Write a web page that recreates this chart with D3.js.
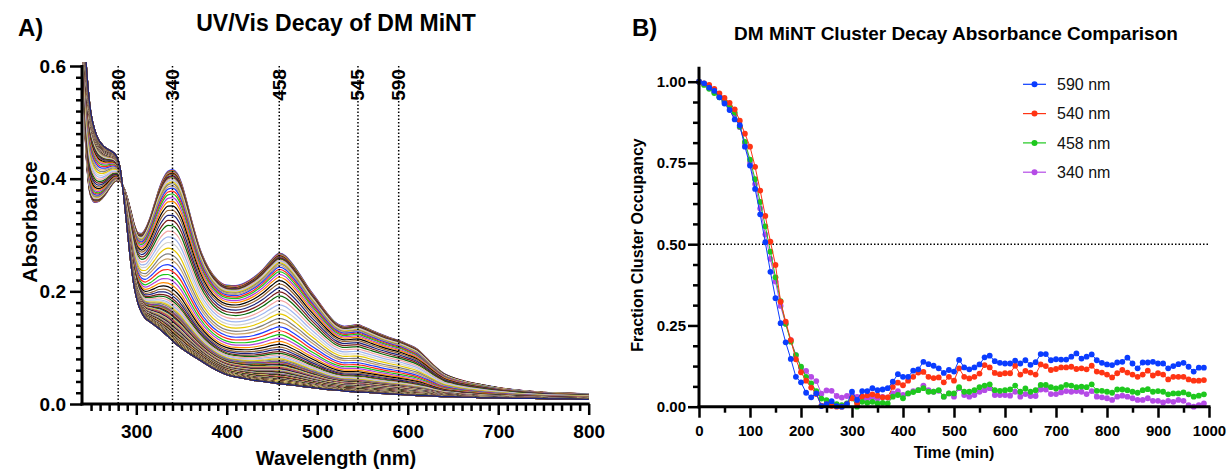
<!DOCTYPE html>
<html>
<head>
<meta charset="utf-8">
<script src="https://cdn.jsdelivr.net/npm/d3@7"></script>
<style>
  body { margin: 0; background: #fff; }
  svg { display: block; font-family: "Liberation Sans", Arial, Helvetica, sans-serif; }
</style>
</head>
<body>
<svg id="chart" width="1227" height="471"></svg>
<script>
// ---------- Panel A: UV/Vis spectra ----------
const wavelengths = [240, 242, 244, 246, 248, 250, 254, 258, 262, 266, 270, 274, 278, 282, 286, 290, 294, 298,
  302, 306, 310, 315, 320, 325, 330, 335, 340, 345, 350, 355, 360, 370, 380, 390, 400, 410, 420, 430, 440, 450,
  458, 465, 470, 480, 490, 500, 510, 520, 530, 540, 545, 550, 560, 570, 580, 590, 600, 610, 620, 630, 640, 650,
  660, 670, 680, 700, 720, 740, 760, 780, 800];

// spectrum at t = 0 (intact cluster)
const initialSpectrum = [0.72, 0.56, 0.46, 0.41, 0.38, 0.367, 0.358, 0.359, 0.364, 0.372, 0.382, 0.391, 0.396, 0.395,
  0.385, 0.367, 0.343, 0.318, 0.304, 0.303, 0.311, 0.33, 0.355, 0.381, 0.401, 0.413, 0.416, 0.41, 0.392, 0.364,
  0.333, 0.277, 0.241, 0.22, 0.211, 0.21, 0.215, 0.225, 0.239, 0.257, 0.268, 0.263, 0.254, 0.232, 0.207, 0.185,
  0.163, 0.145, 0.138, 0.14, 0.141, 0.138, 0.131, 0.124, 0.118, 0.113, 0.106, 0.098, 0.083, 0.067, 0.054, 0.047,
  0.042, 0.038, 0.035, 0.029, 0.025, 0.022, 0.020, 0.019, 0.018];

// spectrum at the end of the run (decayed)
const finalSpectrum = [0.75, 0.68, 0.62, 0.575, 0.54, 0.515, 0.487, 0.47, 0.461, 0.455, 0.451, 0.447, 0.44, 0.42,
  0.37, 0.31, 0.25, 0.205, 0.178, 0.162, 0.152, 0.146, 0.14, 0.134, 0.127, 0.12, 0.112, 0.105, 0.099, 0.093,
  0.088, 0.078, 0.068, 0.059, 0.052, 0.048, 0.045, 0.042, 0.04, 0.038, 0.036, 0.035, 0.034, 0.032, 0.03, 0.028,
  0.026, 0.025, 0.023, 0.022, 0.021, 0.021, 0.02, 0.019, 0.018, 0.017, 0.016, 0.015, 0.015, 0.014, 0.013, 0.013,
  0.012, 0.012, 0.011, 0.011, 0.01, 0.01, 0.009, 0.009, 0.008];

// absorbance at 458 nm of every recorded trace (one every 5 min)
const peak458 = [
  0.268, 0.267, 0.266, 0.265, 0.264, 0.263, 0.262, 0.260, 0.259, 0.257,
  0.256, 0.254, 0.253, 0.251, 0.249, 0.246, 0.243, 0.239, 0.235, 0.230,
  0.225, 0.219, 0.213, 0.206, 0.199, 0.192, 0.184, 0.176, 0.168, 0.160,
  0.152, 0.145, 0.137, 0.130, 0.123, 0.117, 0.111, 0.106, 0.101, 0.097,
  0.093, 0.090, 0.087, 0.084, 0.082, 0.080, 0.078, 0.076, 0.075, 0.074,
  0.073, 0.072, 0.071, 0.070, 0.069, 0.069, 0.068, 0.068, 0.067, 0.067,
  0.066, 0.066, 0.065, 0.065, 0.064, 0.064, 0.063, 0.063, 0.062, 0.062,
  0.061, 0.061, 0.060, 0.060, 0.060, 0.060, 0.059, 0.059, 0.058, 0.058,
  0.057, 0.057, 0.057, 0.057, 0.056, 0.056, 0.055, 0.055, 0.055, 0.055,
  0.054, 0.054, 0.053, 0.053, 0.053, 0.053, 0.052, 0.052, 0.052, 0.052,
  0.051, 0.051, 0.050, 0.050, 0.050, 0.050, 0.049, 0.049, 0.049, 0.049,
  0.048, 0.048, 0.048, 0.048, 0.047, 0.047, 0.047, 0.047, 0.046, 0.046,
  0.046, 0.046, 0.045, 0.045, 0.045, 0.045, 0.045, 0.045, 0.044, 0.044,
  0.044, 0.044, 0.043, 0.043, 0.043, 0.043, 0.043, 0.043, 0.042, 0.042,
  0.042, 0.042, 0.042, 0.042, 0.041, 0.041, 0.041, 0.041, 0.041, 0.041,
  0.040, 0.040, 0.040, 0.040, 0.040, 0.040, 0.040, 0.040, 0.039, 0.039,
  0.039, 0.039, 0.039, 0.039, 0.039, 0.039, 0.038, 0.038, 0.038, 0.038,
  0.038, 0.038, 0.038, 0.038, 0.038, 0.038, 0.037, 0.037, 0.037, 0.037,
  0.037, 0.037, 0.037, 0.037, 0.037, 0.037, 0.036, 0.036, 0.036, 0.036,
  0.036, 0.036, 0.036, 0.036, 0.036, 0.036, 0.036, 0.036, 0.036, 0.036];

const markerWavelengths = [280, 340, 458, 545, 590];
const traceColors = ["#1f3cff", "#ff2a1a", "#19c719", "#b040e0", "#ff8c00", "#000000", "#996633", "#1a237e",
  "#7b1c1c", "#0b6b0b", "#f4a6a6", "#9fb6f0", "#d0d0d0", "#e6c800", "#808080", "#c8a26a"];
const xTicksA = [300, 400, 500, 600, 700, 800];
const yTicksA = [0.0, 0.2, 0.4, 0.6];

// ---------- Panel B: fraction cluster occupancy ----------
const times = d3.range(0, 1000, 10);
const occ590 = [
  1.0, 0.995, 0.982, 0.972, 0.952, 0.933, 0.913, 0.884, 0.866, 0.80,
  0.742, 0.67, 0.592, 0.506, 0.415, 0.334, 0.257, 0.198, 0.147, 0.092,
  0.075, 0.043, 0.029, 0.041, 0.002, 0.008, 0.017, 0.002, 0.0, 0.008,
  0.046, 0.021, 0.048, 0.048, 0.057, 0.051, 0.053, 0.057, 0.077, 0.10,
  0.092, 0.092, 0.111, 0.115, 0.138, 0.131, 0.126, 0.118, 0.104, 0.113,
  0.108, 0.144, 0.121, 0.115, 0.121, 0.13, 0.152, 0.157, 0.14, 0.135,
  0.133, 0.133, 0.142, 0.133, 0.143, 0.129, 0.137, 0.162, 0.162, 0.143,
  0.146, 0.145, 0.145, 0.154, 0.164, 0.148, 0.154, 0.161, 0.143, 0.135,
  0.13, 0.128, 0.136, 0.138, 0.151, 0.133, 0.118, 0.136, 0.136, 0.138,
  0.133, 0.133, 0.118, 0.125, 0.131, 0.135, 0.123, 0.108, 0.12, 0.12];
const occ540 = [
  1.0, 0.995, 0.99, 0.978, 0.964, 0.95, 0.935, 0.915, 0.88, 0.84,
  0.80, 0.738, 0.665, 0.587, 0.508, 0.436, 0.323, 0.262, 0.205, 0.146,
  0.106, 0.08, 0.059, 0.039, 0.003, 0.008, 0.003, 0.0, 0.0, 0.008,
  0.026, 0.01, 0.032, 0.035, 0.038, 0.034, 0.029, 0.029, 0.061, 0.074,
  0.066, 0.08, 0.092, 0.105, 0.107, 0.092, 0.088, 0.09, 0.075, 0.092,
  0.08, 0.118, 0.092, 0.087, 0.092, 0.102, 0.128, 0.121, 0.104, 0.10,
  0.103, 0.103, 0.126, 0.099, 0.11, 0.105, 0.099, 0.13, 0.125, 0.113,
  0.116, 0.121, 0.121, 0.123, 0.116, 0.118, 0.115, 0.126, 0.108, 0.105,
  0.099, 0.09, 0.103, 0.113, 0.105, 0.099, 0.092, 0.099, 0.111, 0.096,
  0.103, 0.099, 0.084, 0.092, 0.092, 0.092, 0.084, 0.08, 0.08, 0.082];
const occ458 = [
  1.0, 0.99, 0.978, 0.965, 0.952, 0.94, 0.925, 0.905, 0.862, 0.815,
  0.76, 0.70, 0.63, 0.555, 0.477, 0.398, 0.325, 0.255, 0.20, 0.159,
  0.123, 0.092, 0.072, 0.048, 0.025, 0.02, 0.012, 0.008, 0.005, 0.01,
  0.026, 0.0, 0.015, 0.012, 0.015, 0.01, 0.012, 0.01, 0.031, 0.036,
  0.026, 0.041, 0.045, 0.051, 0.057, 0.046, 0.046, 0.051, 0.031, 0.041,
  0.041, 0.06, 0.046, 0.046, 0.051, 0.06, 0.065, 0.069, 0.051, 0.049,
  0.051, 0.053, 0.065, 0.046, 0.056, 0.046, 0.051, 0.067, 0.067, 0.06,
  0.056, 0.06, 0.067, 0.065, 0.06, 0.062, 0.06, 0.069, 0.049, 0.049,
  0.046, 0.043, 0.053, 0.053, 0.051, 0.046, 0.043, 0.051, 0.054, 0.046,
  0.048, 0.046, 0.038, 0.041, 0.041, 0.044, 0.038, 0.031, 0.034, 0.038];
const occ340 = [
  1.0, 0.993, 0.98, 0.968, 0.955, 0.94, 0.922, 0.90, 0.86, 0.81,
  0.75, 0.685, 0.61, 0.53, 0.455, 0.385, 0.31, 0.255, 0.205, 0.159,
  0.12, 0.11, 0.092, 0.079, 0.04, 0.05, 0.049, 0.033, 0.028, 0.033,
  0.036, 0.03, 0.025, 0.025, 0.028, 0.025, 0.03, 0.028, 0.041, 0.048,
  0.036, 0.041, 0.048, 0.051, 0.065, 0.051, 0.046, 0.049, 0.031, 0.041,
  0.031, 0.057, 0.036, 0.031, 0.036, 0.046, 0.051, 0.057, 0.036, 0.036,
  0.036, 0.034, 0.046, 0.031, 0.039, 0.033, 0.033, 0.053, 0.053, 0.039,
  0.039, 0.044, 0.048, 0.046, 0.048, 0.046, 0.039, 0.048, 0.031, 0.029,
  0.026, 0.021, 0.031, 0.034, 0.031, 0.026, 0.021, 0.021, 0.026, 0.018,
  0.018, 0.013, 0.018, 0.015, 0.021, 0.018, 0.005, 0.0, 0.005, 0.01];
const seriesNames = ["590 nm", "540 nm", "458 nm", "340 nm"];
const seriesColors = ["#0a3cff", "#ff3414", "#1ec81e", "#b54be6"];
const xTicksB = [0, 100, 200, 300, 400, 500, 600, 700, 800, 900, 1000];
const yTicksB = [0.0, 0.25, 0.5, 0.75, 1.0];

// ---------- drawing ----------
const svg = d3.select("#chart");
const BOLD = 700;

function styleAxis(g, width) {
  g.select(".domain").remove();
  g.selectAll(".tick line").attr("stroke", "#000").attr("stroke-width", width);
}

// ===== Panel A =====
const xA = d3.scaleLinear().domain([240, 800]).range([82, 588.7]);
const yA = d3.scaleLinear().domain([0, 0.6]).range([404, 66]);

svg.append("text").attr("x", 18).attr("y", 36).attr("font-size", 24).attr("font-weight", BOLD).text("A)");
svg.append("text").attr("x", 336).attr("y", 31).attr("text-anchor", "middle")
  .attr("font-size", 23).attr("font-weight", BOLD).text("UV/Vis Decay of DM MiNT");

svg.append("clipPath").attr("id", "clipA").append("rect")
  .attr("x", 82).attr("y", 62).attr("width", 520).attr("height", 345);

// each trace mixes the starting and decayed spectra by its 458 nm absorbance
const i458 = wavelengths.indexOf(458);
const span458 = initialSpectrum[i458] - finalSpectrum[i458];
const traces = peak458.map(a => {
  const w = (a - finalSpectrum[i458]) / span458;
  return wavelengths.map((wl, j) => [wl, finalSpectrum[j] + w * (initialSpectrum[j] - finalSpectrum[j])]);
});
const lineA = d3.line().x(d => xA(d[0])).y(d => yA(d[1])).curve(d3.curveMonotoneX);
svg.append("g").attr("clip-path", "url(#clipA)")
  .selectAll("path").data(traces).join("path")
  .attr("d", lineA).attr("fill", "none")
  .attr("stroke", (d, k) => traceColors[k % traceColors.length])
  .attr("stroke-width", 1.2);

// reference wavelengths
const refs = svg.append("g");
markerWavelengths.forEach(wl => {
  refs.append("line").attr("x1", xA(wl)).attr("x2", xA(wl)).attr("y1", yA(0.6)).attr("y2", yA(0))
    .attr("stroke", "#000").attr("stroke-width", 1.5).attr("stroke-dasharray", "1.5,2");
  refs.append("text").attr("transform", `translate(${xA(wl) + 6.5},85) rotate(-90)`)
    .attr("text-anchor", "middle").attr("font-size", 19).attr("font-weight", BOLD).text(wl);
});

// axes A
const gxAminor = svg.append("g").attr("transform", "translate(0,404)")
  .call(d3.axisBottom(xA).tickValues(d3.range(250, 800, 10).filter(v => v % 100 !== 0)).tickSize(7).tickFormat(""));
styleAxis(gxAminor, 2.5);
const gxA = svg.append("g").attr("transform", "translate(0,404)")
  .call(d3.axisBottom(xA).tickValues(xTicksA).tickSize(11).tickPadding(10));
styleAxis(gxA, 2.5);
gxA.selectAll("text").attr("font-size", 19).attr("font-weight", BOLD).attr("fill", "#000").attr("font-family", null);

const gyAminor = svg.append("g").attr("transform", "translate(82,0)")
  .call(d3.axisLeft(yA).tickValues(d3.range(1, 30).filter(v => v % 10 !== 0).map(v => v * 0.02)).tickSize(6).tickFormat(""));
styleAxis(gyAminor, 2.5);
const gyA = svg.append("g").attr("transform", "translate(82,0)")
  .call(d3.axisLeft(yA).tickValues(yTicksA).tickSize(12).tickPadding(4).tickFormat(d3.format(".1f")));
styleAxis(gyA, 2.5);
gyA.selectAll("text").attr("font-size", 19).attr("font-weight", BOLD).attr("fill", "#000").attr("font-family", null);

svg.append("line").attr("x1", 82).attr("x2", 82).attr("y1", 65).attr("y2", 405.5).attr("stroke", "#000").attr("stroke-width", 3);
svg.append("line").attr("x1", 80.5).attr("x2", 589.7).attr("y1", 404).attr("y2", 404).attr("stroke", "#000").attr("stroke-width", 3);

svg.append("text").attr("transform", "translate(37,222) rotate(-90)").attr("text-anchor", "middle")
  .attr("font-size", 21).attr("font-weight", BOLD).text("Absorbance");
svg.append("text").attr("x", 336).attr("y", 465).attr("text-anchor", "middle")
  .attr("font-size", 20).attr("font-weight", BOLD).text("Wavelength (nm)");

// ===== Panel B =====
const xB = d3.scaleLinear().domain([0, 1000]).range([699, 1209]);
const yB = d3.scaleLinear().domain([0, 1]).range([406.7, 81.7]);

svg.append("text").attr("x", 632).attr("y", 36).attr("font-size", 24).attr("font-weight", BOLD).text("B)");
svg.append("text").attr("x", 956).attr("y", 40).attr("text-anchor", "middle")
  .attr("font-size", 19).attr("font-weight", BOLD).text("DM MiNT Cluster Decay Absorbance Comparison");

// half-occupancy reference
svg.append("line").attr("x1", xB(0)).attr("x2", xB(1000)).attr("y1", yB(0.5)).attr("y2", yB(0.5))
  .attr("stroke", "#000").attr("stroke-width", 1.5).attr("stroke-dasharray", "1.5,2");

const occSeries = [occ590, occ540, occ458, occ340];
const lineB = d3.line().x((d, i) => xB(times[i])).y(d => yB(d));
// drawn back to front: 340, 458, 540, 590
[3, 2, 1, 0].forEach(s => {
  const g = svg.append("g");
  g.append("path").datum(occSeries[s]).attr("d", lineB).attr("fill", "none")
    .attr("stroke", seriesColors[s]).attr("stroke-width", 1);
  g.selectAll("circle").data(occSeries[s]).join("circle")
    .attr("cx", (d, i) => xB(times[i])).attr("cy", d => yB(d)).attr("r", 2.9)
    .attr("fill", seriesColors[s]);
});

// axes B
const gxBminor = svg.append("g").attr("transform", "translate(0,406.7)")
  .call(d3.axisBottom(xB).tickValues(d3.range(50, 1000, 100)).tickSize(6).tickFormat(""));
styleAxis(gxBminor, 2.5);
const gxB = svg.append("g").attr("transform", "translate(0,406.7)")
  .call(d3.axisBottom(xB).tickValues(xTicksB).tickSize(11).tickPadding(8).tickFormat(d3.format("d")));
styleAxis(gxB, 2.5);
gxB.selectAll("text").attr("font-size", 15).attr("font-weight", BOLD).attr("fill", "#000").attr("font-family", null);

const gyBminor = svg.append("g").attr("transform", "translate(699,0)")
  .call(d3.axisLeft(yB).tickValues(d3.range(1, 16).filter(v => v % 4 !== 0).map(v => v * 0.0625)).tickSize(6).tickFormat(""));
styleAxis(gyBminor, 2.5);
const gyB = svg.append("g").attr("transform", "translate(699,0)")
  .call(d3.axisLeft(yB).tickValues(yTicksB).tickSize(11).tickPadding(2).tickFormat(d3.format(".2f")));
styleAxis(gyB, 2.5);
gyB.selectAll("text").attr("font-size", 15).attr("font-weight", BOLD).attr("fill", "#000").attr("font-family", null);

svg.append("line").attr("x1", 699).attr("x2", 699).attr("y1", 66.7).attr("y2", 408.2).attr("stroke", "#000").attr("stroke-width", 3);
svg.append("line").attr("x1", 697.5).attr("x2", 1210.5).attr("y1", 406.7).attr("y2", 406.7).attr("stroke", "#000").attr("stroke-width", 3);

svg.append("text").attr("transform", "translate(643,245) rotate(-90)").attr("text-anchor", "middle")
  .attr("font-size", 16).attr("font-weight", BOLD).text("Fraction Cluster Occupancy");
svg.append("text").attr("x", 954).attr("y", 458).attr("text-anchor", "middle")
  .attr("font-size", 16).attr("font-weight", BOLD).text("Time (min)");

// legend
const legend = svg.append("g");
seriesNames.forEach((name, i) => {
  const y = 84.3 + i * 29.3;
  legend.append("line").attr("x1", 1023).attr("x2", 1046).attr("y1", y).attr("y2", y)
    .attr("stroke", seriesColors[i]).attr("stroke-width", 1.2);
  legend.append("circle").attr("cx", 1034.5).attr("cy", y).attr("r", 3).attr("fill", seriesColors[i]);
  legend.append("text").attr("x", 1057).attr("y", y).attr("dy", "0.35em")
    .attr("font-size", 16).attr("fill", "#111").text(name);
});
</script>
</body>
</html>
